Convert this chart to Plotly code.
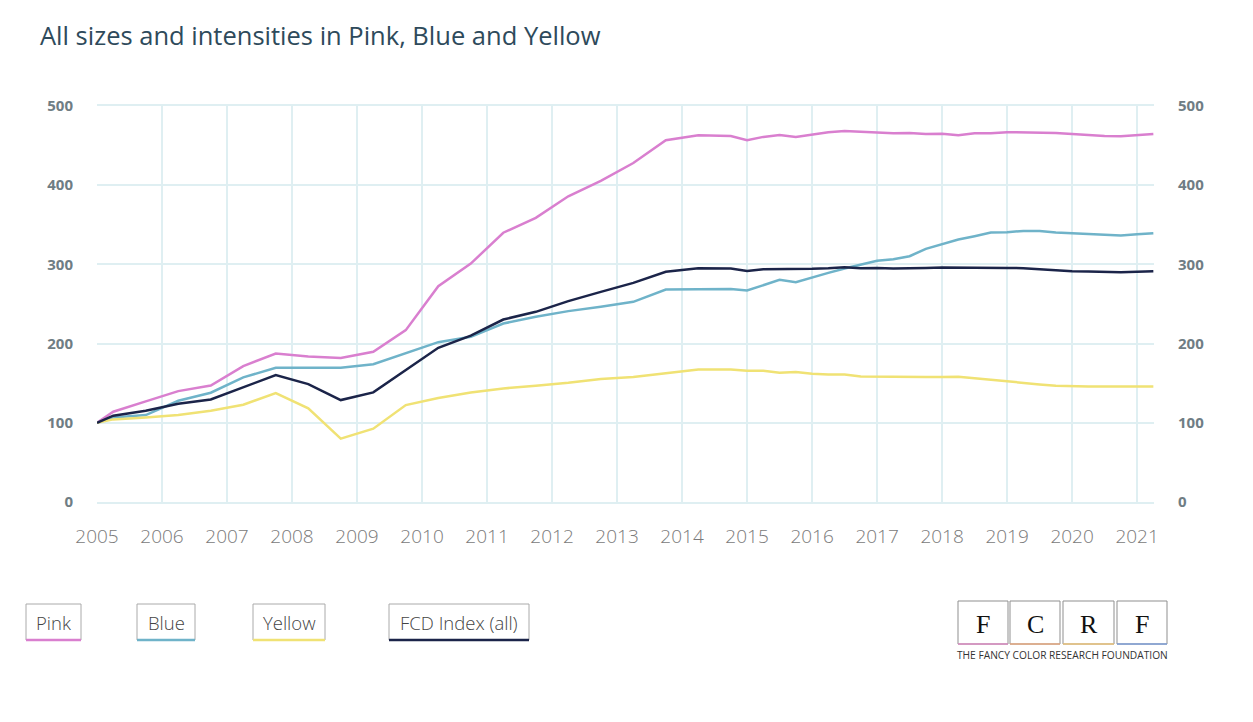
import plotly.graph_objects as go

# ---- data (decimal years) ----
x_semi = [2005.0, 2005.25, 2005.75, 2006.25, 2006.75, 2007.25, 2007.75, 2008.25, 2008.75,
          2009.25, 2009.75, 2010.25, 2010.75, 2011.25, 2011.75, 2012.25, 2012.75, 2013.25,
          2013.75, 2014.25, 2014.75]
x_quarter = [2015.0, 2015.25, 2015.5, 2015.75, 2016.0, 2016.25, 2016.5, 2016.75,
             2017.0, 2017.25, 2017.5, 2017.75, 2018.0, 2018.25, 2018.5, 2018.75,
             2019.0, 2019.25, 2019.5, 2019.75, 2020.0, 2020.25, 2020.5, 2020.75,
             2021.0, 2021.25]
dates = x_semi + x_quarter

pink = [100, 114, 127, 140, 147, 171.6, 187.5, 183.8, 181.7, 189.7, 217, 272.5, 301,
        340, 358.7, 386, 405.4, 428, 456.7, 463, 462,
        456.7, 461, 463.4, 461, 464, 467, 468.5, 467.6,
        467, 465.5, 466, 464.7, 465, 463, 465.5, 465.5,
        467, 466.8, 466.8, 466, 464.7, 463.4, 462, 461.7,
        463.4, 464.7]
blue = [100, 106.8, 109.8, 127.8, 138, 157.3, 169.5, 169.5, 169.5, 174, 188.4, 201.8, 208.6,
        225.4, 233.8, 241, 246.4, 252.7, 268.3, 268.3, 269,
        267, 273.8, 280.5, 277.5, 283.8, 289.3, 294.8, 299.8,
        304.5, 306.6, 310.3, 319.6, 325.5, 331.4, 335.6, 340.2,
        340.6, 342.3, 342.3, 340.2, 339.4, 338.5, 337.7, 336.4,
        338, 339.4]
yellow = [100, 104.3, 106.8, 109.8, 115.2, 122.8, 137.5, 118.2, 80, 92.5, 122.4, 131.2, 138.2,
          143.4, 146.8, 150.5, 155.2, 157.7, 162.7, 167.4, 167.4,
          165.7, 165.7, 163.2, 164, 161.9, 161, 161, 158.5,
          158.1, 157.7, 158.1, 157.7, 157.7, 158.1, 156.4, 154.3,
          151.8, 150.5, 148.4, 146.8, 145.9, 145.9, 145.9, 145.9,
          145.9, 145.9]
fcd = [100, 109, 115.2, 124, 129.5, 145, 160.2, 148.9, 128.7, 138.4, 166.5, 194.7, 210,
       230.4, 240.1, 253.6, 265.3, 276.7, 290.6, 295.2, 294.8,
       291.8, 294, 294, 293.5, 294.4, 295.2, 296.5, 295.2,
       295.6, 294.8, 295.6, 295.6, 296, 296, 296.5, 296.5,
       295.6, 295.2, 294, 292.3, 291.4, 291, 290.2, 290.2,
       290.6, 291.4]

series_names = ["Pink", "Blue", "Yellow", "FCD Index (all)"]
series_values = [pink, blue, yellow, fcd]
series_colors = ["#D97FCF", "#6FB3C9", "#F0E274", "#1B2449"]

year_ticks = list(range(2005, 2022))
y_ticks = [0, 100, 200, 300, 400, 500]

title_text = "All sizes and intensities in Pink, Blue and Yellow"
logo_letters = ["F", "C", "R", "F"]
logo_caption = "THE FANCY COLOR RESEARCH FOUNDATION"

# ---- geometry (screen px; page body has an 8px offset) ----
OFF = 8
W, H = 1253 - OFF, 722 - OFF
PL, PR, PT, PB = 97, 1154, 106, 502          # plot area in screen px
L, R, T, B = PL - OFF, W - (PR - OFF), PT - OFF, H - (PB - OFF)
PW, PH = W - L - R, H - T - B


def px(x):
    return (x - PL) / PW


def py(y):
    return (PB - y) / PH


# ---- figure ----
fig = go.Figure()
for name, vals, col in zip(series_names, series_values, series_colors):
    fig.add_trace(go.Scatter(x=dates, y=vals, mode="lines", name=name,
                             line=dict(color=col, width=2.5), showlegend=False))
# invisible trace to carry the right axis
fig.add_trace(go.Scatter(x=dates, y=fcd, yaxis="y2", mode="lines",
                         line=dict(color="rgba(0,0,0,0)"), showlegend=False, hoverinfo="skip"))

grid = "#DFEFF2"
fig.update_layout(
    width=W, height=H,
    margin=dict(l=L, r=R, t=T, b=B),
    paper_bgcolor="white", plot_bgcolor="white",
    font=dict(family="Open Sans", color="#555"),
    title=dict(text=title_text, x=(40 - OFF) / W, xanchor="left", y=1 - (36 - OFF) / H,
               yanchor="middle",
               font=dict(family="Open Sans", size=25.5, color="#2E4A5B")),
    xaxis=dict(range=[2005, 2021.26], tickvals=year_ticks, ticktext=[str(y) for y in year_ticks],
               showgrid=True, gridcolor=grid, gridwidth=1.5, zeroline=False,
               showline=True, linecolor=grid, linewidth=1.5, mirror=True,
               ticks="outside", ticklen=16, tickcolor="rgba(0,0,0,0)",
               tickfont=dict(family="Open Sans", size=19, color="#7A7A7A", weight=300)),
    yaxis=dict(range=[0, 500], tickvals=y_ticks, showgrid=True, gridcolor=grid, gridwidth=1.5,
               zeroline=False, showline=False,
               ticks="outside", ticklen=20, tickcolor="rgba(0,0,0,0)",
               tickfont=dict(family="Open Sans", size=15, color="#6F7D84", weight="bold")),
    yaxis2=dict(range=[0, 500], tickvals=y_ticks, overlaying="y", side="right",
                showgrid=False, zeroline=False,
                ticks="outside", ticklen=20, tickcolor="rgba(0,0,0,0)",
                tickfont=dict(family="Open Sans", size=15, color="#6F7D84", weight="bold")),
)

# ---- custom legend (boxes with colored underline) ----
legend_boxes = [(26, 81), (137, 195), (253, 325), (389, 529)]
for (x0, x1), name, col in zip(legend_boxes, series_names, series_colors):
    fig.add_shape(type="rect", xref="paper", yref="paper",
                  x0=px(x0), x1=px(x1), y0=py(640), y1=py(604),
                  line=dict(color="#AAAAAA", width=1))
    fig.add_shape(type="line", xref="paper", yref="paper",
                  x0=px(x0), x1=px(x1), y0=py(640), y1=py(640),
                  line=dict(color=col, width=2.5))
    fig.add_annotation(xref="paper", yref="paper",
                       x=px((x0 + x1) / 2), y=py(622),
                       text=name, showarrow=False, xanchor="center", yanchor="middle",
                       font=dict(family="Open Sans", size=18.5, color="#444444", weight=300))

# ---- logo ----
logo_boxes = [(958, 1008), (1010, 1060), (1063, 1114), (1117, 1167)]
grad = ["#D98AC0", "#E3A77F", "#E8C27A", "#7E9ED6"]
for (x0, x1), letter, gc in zip(logo_boxes, logo_letters, grad):
    fig.add_shape(type="rect", xref="paper", yref="paper",
                  x0=px(x0), x1=px(x1), y0=py(644), y1=py(601),
                  line=dict(color="#8F8F8F", width=1))
    fig.add_shape(type="line", xref="paper", yref="paper",
                  x0=px(x0), x1=px(x1), y0=py(644), y1=py(644),
                  line=dict(color=gc, width=1.5))
    fig.add_annotation(xref="paper", yref="paper",
                       x=px((x0 + x1) / 2), y=py(624),
                       text=letter, showarrow=False, xanchor="center", yanchor="middle",
                       font=dict(family="Liberation Serif", size=26, color="#111111"))
fig.add_annotation(xref="paper", yref="paper",
                   x=px(1062), y=py(655),
                   text=logo_caption, showarrow=False, xanchor="center", yanchor="middle",
                   font=dict(family="Open Sans", size=10.2, color="#333333"))

fig.write_html("out.html")
